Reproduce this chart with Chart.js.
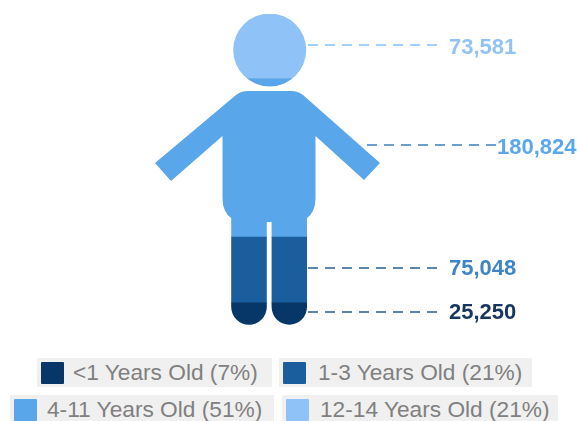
<!DOCTYPE html>
<html>
<head>
<meta charset="utf-8">
<title>Age groups</title>
<script src="https://cdn.jsdelivr.net/npm/chart.js@4"></script>
<style>
  html, body { margin: 0; padding: 0; background: #fff; overflow: hidden; }
  #wrap { position: relative; width: 577px; height: 421px; overflow: hidden; }
  #grafico { position: absolute; left: 0; top: 0; }
  .item {
    position: absolute; height: 29px; background: #f0f0f0; box-sizing: border-box;
    font: 22.7px "Liberation Sans", Arial, sans-serif; color: #808080; line-height: 29px; white-space: nowrap;
  }
  .item i { position: absolute; top: 4px; width: 23px; height: 22px; border-radius: 1px; }
  .item span { position: absolute; top: 0; }
</style>
</head>
<body>
<div id="wrap">
  <canvas id="grafico" width="577" height="421"></canvas>
  <div id="legenda"></div>
</div>
<script>
// age bands, youngest first (feet to head)
const ages = ['<1', '1-3', '4-11', '12-14'];
const people = [25250, 75048, 180824, 73581];
const valueLabels = ['25,250', '75,048', '180,824', '73,581'];
// where the leader line sits inside each band (0 = bottom, 1 = top)
const leaderAt = [0.59, 0.53, 0.58, 0.52];

const bandColors = ['#063768', '#1b5e9e', '#5aa6ea', '#8fc3f7'];
const lineColors = ['#5f83a8', '#5b87af', '#6a9fd0', '#a5cff5'];
const labelColors = ['#17365f', '#3d85c8', '#5ba7ec', '#92c3f3'];

const total = people.reduce((a, b) => a + b, 0);

// the x scale runs 0-577, the single stacked bar stands behind the figure
const barX = 270;
const leaderLayout = [
  { from: 308, to: 438, textX: 449, dy: 0.5 },
  { from: 308, to: 438, textX: 449, dy: 1 },
  { from: 367, to: 497, textX: 497, dy: 2.5 },
  { from: 308, to: 438, textX: 449, dy: 2.5 }
];

// person outline, bars only show through this
function personPath() {
  const p = new Path2D();
  p.arc(269.7, 50, 36.5, 0, Math.PI * 2);
  p.closePath();
  p.moveTo(248, 91);
  p.lineTo(291, 91);
  p.quadraticCurveTo(298, 91, 303, 95);
  p.lineTo(380, 163);
  p.lineTo(364, 180);
  p.lineTo(315.5, 136);
  p.lineTo(315.5, 198);
  p.quadraticCurveTo(315.5, 212, 307, 218);
  p.lineTo(307, 307);
  p.arc(289.3, 307, 17.7, 0, Math.PI);
  p.lineTo(271.6, 222);
  p.lineTo(266.8, 222);
  p.lineTo(266.8, 307);
  p.arc(249, 307, 17.8, 0, Math.PI);
  p.lineTo(231.2, 218);
  p.quadraticCurveTo(222.5, 212, 222.5, 198);
  p.lineTo(222.5, 136);
  p.lineTo(171, 181);
  p.lineTo(155, 163);
  p.lineTo(236, 95);
  p.quadraticCurveTo(241, 91, 248, 91);
  p.closePath();
  return p;
}

const recortePessoa = {
  id: 'recortePessoa',
  beforeDatasetsDraw(chart) {
    chart.ctx.save();
    chart.ctx.clip(personPath());
  },
  // bars come first in draw order, so release the clip before the leader lines
  beforeDatasetDraw(chart, args) {
    if (args.meta.type === 'line' && !chart.$soltou) {
      chart.ctx.restore();
      chart.$soltou = true;
    }
  }
};

const rotulos = {
  id: 'rotulos',
  afterDraw(chart) {
    const ctx = chart.ctx;
    ctx.save();
    ctx.font = 'bold 22px "Liberation Sans", Arial, sans-serif';
    ctx.textBaseline = 'middle';
    valueLabels.forEach((txt, i) => {
      const meta = chart.getDatasetMeta(ages.length + i);
      const ponto = meta.data[1];
      ctx.fillStyle = labelColors[i];
      ctx.fillText(txt, leaderLayout[i].textX, ponto.y + leaderLayout[i].dy);
    });
    ctx.restore();
  }
};

const barras = ages.map((a, i) => ({
  type: 'bar',
  label: a + ' Years Old',
  data: [{ x: barX, y: people[i] }],
  backgroundColor: bandColors[i],
  barThickness: 300,
  yAxisID: 'y',
  order: 2
}));

const linhas = ages.map((a, i) => {
  const base = people.slice(0, i).reduce((s, v) => s + v, 0);
  const y = base + people[i] * leaderAt[i];
  return {
    type: 'line',
    label: a + ' leader',
    data: [{ x: leaderLayout[i].from, y: y }, { x: leaderLayout[i].to, y: y }],
    borderColor: lineColors[i],
    borderWidth: 2,
    borderDash: [10, 7],
    pointRadius: 0,
    yAxisID: 'yLinha',
    order: 1
  };
});

new Chart(document.getElementById('grafico'), {
  data: { datasets: barras.concat(linhas) },
  options: {
    responsive: false,
    animation: false,
    layout: { padding: { top: 14, bottom: 96, left: 0, right: 0 } },
    plugins: { legend: { display: false }, tooltip: { enabled: false } },
    scales: {
      x: { type: 'linear', display: false, stacked: true, offset: false, min: 0, max: 577 },
      y: { display: false, stacked: true, min: 0, max: total },
      yLinha: { type: 'linear', display: false, min: 0, max: total }
    }
  },
  plugins: [recortePessoa, rotulos]
});

// legend boxes, 2 x 2
const caixas = [
  { left: 37, top: 358, width: 235, swatch: 4, text: 36 },
  { left: 279, top: 358, width: 253, swatch: 4, text: 39 },
  { left: 10, top: 395, width: 264, swatch: 4, text: 37 },
  { left: 282, top: 395, width: 276, swatch: 4, text: 38 }
];
const legenda = document.getElementById('legenda');
ages.forEach((a, i) => {
  const pct = Math.round(people[i] / total * 100);
  const c = caixas[i];
  const item = document.createElement('div');
  item.className = 'item';
  item.style.cssText = `left:${c.left}px;top:${c.top}px;width:${c.width}px`;
  item.innerHTML = `<i style="left:${c.swatch}px;background:${bandColors[i]}"></i><span style="left:${c.text}px"></span>`;
  item.querySelector('span').textContent = `${a} Years Old (${pct}%)`;
  legenda.appendChild(item);
});
</script>
</body>
</html>
